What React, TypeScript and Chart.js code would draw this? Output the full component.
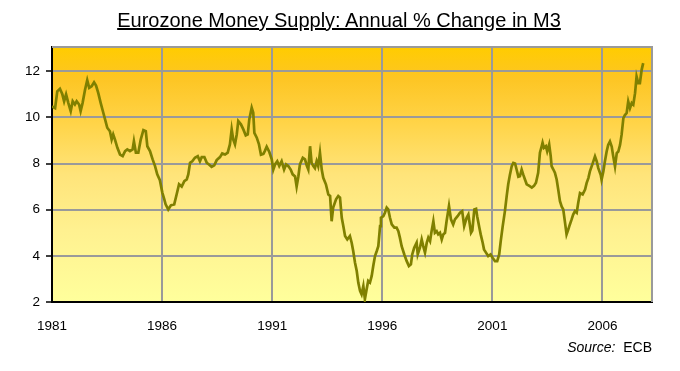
import React, { useEffect, useRef } from "react";
import { Chart, registerables } from "chart.js";

Chart.register(...registerables);

const TITLE = "Eurozone Money Supply: Annual % Change in M3";
const SOURCE_LABEL = "Source:";
const SOURCE_NAME = "ECB";

const xTickYears = [1981, 1986, 1991, 1996, 2001, 2006];
const yTickValues = [2, 4, 6, 8, 10, 12];

// decimal year of each reading
const years = [
  1981.0, 1981.14, 1981.24, 1981.36, 1981.47, 1981.55, 1981.64, 1981.74, 1981.85, 1981.94,
  1982.04, 1982.12, 1982.23, 1982.3, 1982.39, 1982.5, 1982.6, 1982.69, 1982.8, 1982.91,
  1983.0, 1983.1, 1983.21, 1983.33, 1983.41, 1983.51, 1983.63, 1983.71, 1983.78, 1983.86,
  1983.97, 1984.09, 1984.21, 1984.32, 1984.42, 1984.54, 1984.66, 1984.72, 1984.81, 1984.92,
  1985.03, 1985.15, 1985.26, 1985.33, 1985.45, 1985.57, 1985.68, 1985.78, 1985.9,
  1986.01, 1986.1, 1986.16, 1986.28, 1986.4, 1986.55, 1986.66, 1986.77, 1986.89,
  1987.01, 1987.12, 1987.19, 1987.27, 1987.37, 1987.49, 1987.62, 1987.72, 1987.8, 1987.92,
  1988.03, 1988.13, 1988.25, 1988.37, 1988.48, 1988.63, 1988.73, 1988.86, 1988.98,
  1989.08, 1989.16, 1989.23, 1989.31, 1989.39, 1989.46, 1989.58, 1989.69, 1989.8, 1989.89, 1989.96,
  1990.07, 1990.14, 1990.19, 1990.3, 1990.4, 1990.49, 1990.6, 1990.67, 1990.75, 1990.87, 1990.98,
  1991.05, 1991.13, 1991.23, 1991.32, 1991.43, 1991.54, 1991.63, 1991.73, 1991.84, 1991.93,
  1992.04, 1992.11, 1992.19, 1992.26, 1992.39, 1992.49, 1992.57, 1992.64, 1992.72, 1992.79, 1992.87, 1992.94,
  1993.02, 1993.09, 1993.17, 1993.25, 1993.32, 1993.44, 1993.55, 1993.63, 1993.7, 1993.77, 1993.9,
  1994.0, 1994.08, 1994.16, 1994.23, 1994.31, 1994.41, 1994.53, 1994.61, 1994.68, 1994.76, 1994.84, 1994.91, 1994.99,
  1995.06, 1995.14, 1995.21, 1995.29, 1995.36, 1995.44, 1995.52, 1995.59, 1995.67, 1995.75, 1995.82, 1995.9, 1995.94,
  1996.05, 1996.12, 1996.2, 1996.27, 1996.35, 1996.43, 1996.55, 1996.65, 1996.73, 1996.8, 1996.88,
  1997.0, 1997.11, 1997.21, 1997.3, 1997.36, 1997.45, 1997.56, 1997.61, 1997.71, 1997.79, 1997.86, 1997.94,
  1998.02, 1998.09, 1998.17, 1998.24, 1998.32, 1998.39, 1998.47, 1998.54, 1998.62, 1998.7, 1998.77, 1998.85, 1998.92,
  1999.03, 1999.12, 1999.22, 1999.3, 1999.42, 1999.53, 1999.63, 1999.72, 1999.83, 1999.91,
  2000.03, 2000.09, 2000.18, 2000.26, 2000.31, 2000.41, 2000.47, 2000.56, 2000.62, 2000.71, 2000.81, 2000.92,
  2001.01, 2001.12, 2001.22, 2001.31, 2001.38, 2001.47, 2001.57, 2001.65, 2001.72, 2001.8, 2001.88, 2001.95,
  2002.03, 2002.1, 2002.18, 2002.25, 2002.33, 2002.4, 2002.48, 2002.56, 2002.68, 2002.79, 2002.89, 2002.98,
  2003.08, 2003.16, 2003.24, 2003.28, 2003.34, 2003.43, 2003.49, 2003.58, 2003.65, 2003.69, 2003.77, 2003.84, 2003.92, 2003.99,
  2004.07, 2004.15, 2004.22, 2004.3, 2004.37, 2004.45, 2004.52, 2004.6, 2004.67, 2004.75, 2004.83, 2004.9, 2004.98,
  2005.1, 2005.21, 2005.28, 2005.36, 2005.43, 2005.56, 2005.66, 2005.74, 2005.81, 2005.92, 2005.96,
  2006.04, 2006.11, 2006.19, 2006.26, 2006.34, 2006.42, 2006.49, 2006.57, 2006.65, 2006.72, 2006.8, 2006.87, 2006.95,
  2007.02, 2007.1, 2007.17, 2007.25, 2007.33, 2007.4, 2007.48, 2007.55, 2007.63, 2007.7, 2007.78, 2007.85,
];

// annual % change in M3 at each reading
const m3 = [
  10.48, 10.4, 11.13, 11.24, 11.0, 10.7, 11.0, 10.63, 10.27, 10.7,
  10.56, 10.7, 10.56, 10.27, 10.63, 11.2, 11.61, 11.28, 11.35, 11.52,
  11.38, 11.06, 10.63, 10.2, 9.91, 9.55, 9.4, 9.04, 9.26, 9.04,
  8.68, 8.39, 8.32, 8.54, 8.61, 8.54, 8.61, 8.97, 8.47, 8.47,
  9.04, 9.45, 9.4, 8.75, 8.54, 8.18, 7.89, 7.53, 7.28,
  6.74, 6.45, 6.23, 6.01, 6.19, 6.23, 6.66, 7.1, 7.0,
  7.24, 7.31, 7.53, 8.03, 8.1, 8.25, 8.32, 8.1, 8.28, 8.28,
  8.03, 7.96, 7.86, 7.92, 8.15, 8.28, 8.44, 8.39, 8.47,
  8.83, 9.48, 9.04, 8.83, 9.26, 9.84, 9.7, 9.48, 9.22, 9.26, 9.91,
  10.42, 10.2, 9.33, 9.12, 8.83, 8.38, 8.42, 8.55, 8.73, 8.5, 8.18,
  7.74, 7.96, 8.1, 7.89, 8.1, 7.74, 7.96, 7.89, 7.74, 7.53,
  7.44, 7.0, 7.45, 7.96, 8.25, 8.18, 7.91, 7.74, 8.75, 8.03, 7.89, 7.8,
  8.1, 7.89, 8.47, 7.74, 7.38, 7.1, 6.66, 6.6, 5.5, 6.09, 6.45,
  6.59, 6.52, 5.65, 5.29, 4.86, 4.71, 4.86, 4.57, 4.21, 3.71, 3.34, 2.84, 2.48,
  2.33, 2.69, 2.12, 2.55, 2.91, 2.84, 3.13, 3.56, 3.99, 4.21, 4.42, 5.29, 5.65,
  5.72, 5.87, 6.09, 6.01, 5.65, 5.36, 5.22, 5.22, 5.07, 4.79, 4.42,
  4.06, 3.77, 3.56, 3.63, 4.06, 4.35, 4.57, 4.06, 4.35, 4.71, 4.42, 4.14,
  4.57, 4.79, 4.64, 5.07, 5.5, 5.0, 5.07, 4.93, 5.0, 4.71, 4.93, 5.0, 5.5,
  6.16, 5.58, 5.36, 5.58, 5.72, 5.87, 5.94, 5.29, 5.65, 5.79,
  5.0, 5.1, 6.01, 6.04, 5.72, 5.22, 4.93, 4.57, 4.28, 4.14, 3.99, 4.06,
  3.92, 3.77, 3.77, 4.06, 4.64, 5.29, 5.94, 6.59, 7.1, 7.53, 7.89, 8.03,
  8.0, 7.74, 7.43, 7.45, 7.74, 7.53, 7.31, 7.1, 7.03, 6.96, 7.03, 7.17,
  7.6, 8.47, 8.75, 8.9, 8.68, 8.75, 8.53, 8.83, 8.32, 7.89, 7.74, 7.6, 7.31, 6.88,
  6.37, 6.13, 6.01, 5.44, 4.93, 5.15, 5.36, 5.58, 5.79, 5.94, 5.87, 6.3, 6.72,
  6.66, 6.87, 7.15, 7.37, 7.66, 8.02, 8.31, 8.09, 7.8, 7.51, 7.3,
  7.66, 8.09, 8.52, 8.81, 8.96, 8.74, 8.31, 7.87, 8.45, 8.52, 8.81, 9.25, 9.97,
  10.1, 10.19, 10.69, 10.4, 10.62, 10.55, 11.05, 11.77, 11.48, 11.48, 12.06, 12.35,
];

const X_MIN = 1981;
const X_MAX = 2008.25;
const Y_MIN = 2;
const Y_MAX = 13.05;

const FONT = '"Liberation Sans", Arial, sans-serif';

const plotFrame = {
  id: "plotFrame",
  beforeDraw(chart: any) {
    const { ctx, chartArea } = chart;
    if (!chartArea) return;
    const { left, top, right, bottom } = chartArea;
    const g = ctx.createLinearGradient(0, top, 0, bottom);
    g.addColorStop(0, "#FFCC00");
    g.addColorStop(0.12, "#FDC523");
    g.addColorStop(0.3, "#FFD448");
    g.addColorStop(0.5, "#FFE47A");
    g.addColorStop(0.72, "#FFF190");
    g.addColorStop(1, "#FFFF9C");
    ctx.save();
    ctx.fillStyle = g;
    ctx.fillRect(left, top, right - left, bottom - top);
    ctx.restore();
  },
  beforeDatasetsDraw(chart: any) {
    const { ctx, chartArea } = chart;
    const { left, top, right, bottom } = chartArea;
    ctx.save();
    ctx.strokeStyle = "#9a9a9a";
    ctx.lineWidth = 2;
    ctx.beginPath();
    ctx.moveTo(left, top);
    ctx.lineTo(right, top);
    ctx.lineTo(right, bottom);
    ctx.stroke();
    ctx.restore();
  },
};

export default function App() {
  const ref = useRef<HTMLCanvasElement | null>(null);

  useEffect(() => {
    if (!ref.current) return;
    const points = years.map((x, i) => ({ x, y: m3[i] }));
    const chart = new Chart(ref.current, {
      type: "line",
      data: {
        datasets: [
          {
            data: points,
            borderColor: "#808000",
            borderWidth: 2.7,
            pointRadius: 0,
            tension: 0,
            fill: false,
          },
        ],
      },
      options: {
        animation: false,
        responsive: false,
        devicePixelRatio: 1,
        layout: { padding: { top: 47, left: 0, right: 28, bottom: 28 } },
        plugins: {
          legend: { display: false },
          tooltip: { enabled: false },
          title: { display: false },
        },
        scales: {
          x: {
            type: "linear",
            min: X_MIN,
            max: X_MAX,
            afterBuildTicks: (scale: any) => {
              scale.ticks = xTickYears.map((v) => ({ value: v }));
            },
            afterFit: (scale: any) => {
              scale.height = 41;
            },
            grid: { color: "#9a9a9a", lineWidth: 2, drawTicks: false },
            border: { color: "#000", width: 2 },
            ticks: {
              color: "#000",
              padding: 16,
              maxRotation: 0,
              autoSkip: false,
              font: { family: FONT, size: 13.5 },
              callback: (v: any) => String(v),
            },
          },
          y: {
            type: "linear",
            min: Y_MIN,
            max: Y_MAX,
            afterBuildTicks: (scale: any) => {
              scale.ticks = yTickValues.map((v) => ({ value: v }));
            },
            afterFit: (scale: any) => {
              scale.width = 52;
            },
            grid: {
              color: "#9a9a9a",
              lineWidth: 2,
              drawTicks: true,
              tickLength: 6,
              tickColor: "#000",
              tickWidth: 1.5,
            },
            border: { color: "#000", width: 2 },
            ticks: {
              color: "#000",
              padding: 6,
              font: { family: FONT, size: 13.5 },
              callback: (v: any) => String(v),
            },
          },
        },
      },
      plugins: [plotFrame],
    });
    return () => chart.destroy();
  }, []);

  return (
    <div
      style={{
        position: "absolute",
        left: 0,
        top: 0,
        width: 680,
        height: 371,
        background: "#fff",
        fontFamily: FONT,
        color: "#000",
        overflow: "hidden",
      }}
    >
      <canvas
        ref={ref}
        width={680}
        height={371}
        style={{ position: "absolute", left: 0, top: 0, width: 680, height: 371 }}
      />
      <div
        style={{
          position: "absolute",
          left: 0,
          top: 8,
          width: 678,
          textAlign: "center",
          fontSize: 20,
          lineHeight: "24px",
          textDecoration: "underline",
          whiteSpace: "nowrap",
        }}
      >
        {TITLE}
      </div>
      <div
        style={{
          position: "absolute",
          right: 28,
          top: 338,
          fontSize: 14,
          lineHeight: "18px",
          whiteSpace: "nowrap",
        }}
      >
        <i>{SOURCE_LABEL}</i>&nbsp; {SOURCE_NAME}
      </div>
    </div>
  );
}
